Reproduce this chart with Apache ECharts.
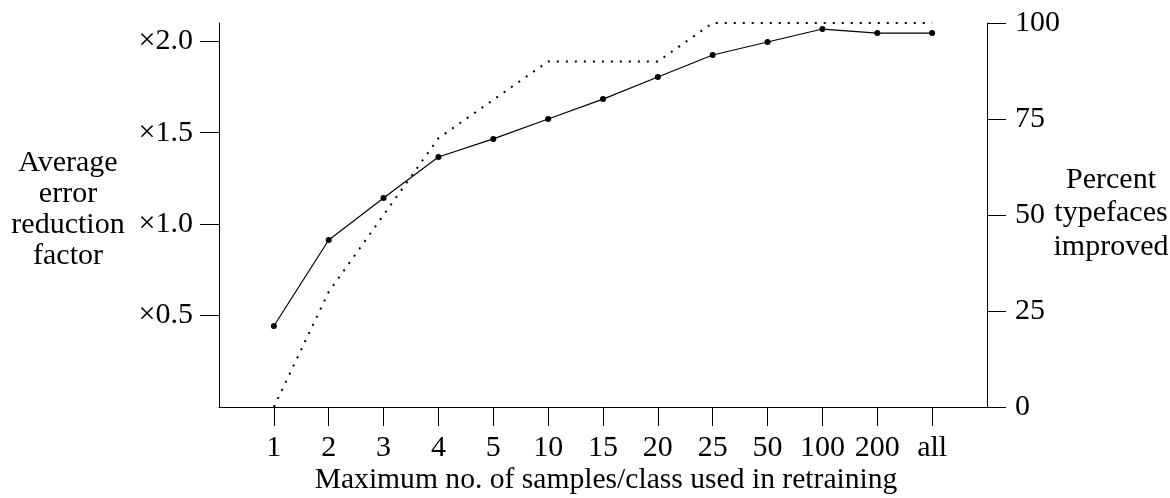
<!DOCTYPE html>
<html>
<head>
<meta charset="utf-8">
<script src="https://cdn.jsdelivr.net/npm/echarts@6/dist/echarts.min.js"></script>
<style>
html,body{margin:0;padding:0;background:#fff;}
#wrap{position:relative;width:1170px;height:498px;}
#axes,#marks{position:absolute;left:0;top:0;width:1170px;height:498px;}
</style>
</head>
<body>
<div id="wrap"><div id="axes"></div><div id="marks"></div></div>
<script>
const categories = ['1', '2', '3', '4', '5', '10', '15', '20', '25', '50', '100', '200', 'all'];
const errorReduction = [0.443, 0.913, 1.143, 1.367, 1.466, 1.575, 1.684, 1.805, 1.925, 1.996, 2.067, 2.045, 2.045];
const percentImproved = [0, 30, 50, 70, 80, 90, 90, 90, 100, 100, 100, 100, 100];
const leftTicks = [0.5, 1.0, 1.5, 2.0];
const xTitle = 'Maximum no. of samples/class used in retraining';
const leftTitle = 'Average\nerror\nreduction\nfactor';
const rightTitle = 'Percent\ntypefaces\nimproved';

const FONT = 'Liberation Serif';
const FS = 30;
const positions = categories.map(function (c, i) { return i + 1; });
const xMax = categories.length + 1;
const solidData = errorReduction.map(function (v, i) { return [positions[i], v]; });
const dottedData = percentImproved.map(function (v, i) { return [positions[i], v]; });
const gridBox = { left: 219, right: 183, top: 23, bottom: 91 };

// layer 1: axes, ticks, labels and the solid series
const axesChart = echarts.init(document.getElementById('axes'));
axesChart.setOption({
  animation: false,
  backgroundColor: '#fff',
  grid: gridBox,
  xAxis: {
    type: 'value', min: 0, max: xMax,
    axisLine: { show: true, lineStyle: { color: '#000', width: 1 } },
    axisTick: { show: true, length: 19, lineStyle: { color: '#000', width: 1 }, customValues: positions },
    axisLabel: { margin: 26, fontFamily: FONT, fontSize: FS, color: '#000', customValues: positions,
      formatter: function (v) { return categories[Math.round(v) - 1]; } },
    splitLine: { show: false }
  },
  yAxis: [
    {
      type: 'value', min: 0, max: 2.1, position: 'left',
      axisLine: { show: true, lineStyle: { color: '#000', width: 1 } },
      axisTick: { show: true, length: 19, lineStyle: { color: '#000', width: 1 }, customValues: leftTicks },
      axisLabel: { margin: 26, fontFamily: FONT, fontSize: FS, color: '#000', customValues: leftTicks,
        formatter: function (v) { return '\u00d7' + v.toFixed(1); } },
      splitLine: { show: false }
    },
    {
      type: 'value', min: 0, max: 100, interval: 25, position: 'right',
      axisLine: { show: true, lineStyle: { color: '#000', width: 1 } },
      axisTick: { show: true, length: 19, lineStyle: { color: '#000', width: 1 } },
      axisLabel: { margin: 28, fontFamily: FONT, fontSize: FS, color: '#000' },
      splitLine: { show: false }
    }
  ],
  series: [
    { type: 'line', yAxisIndex: 0, data: solidData, symbol: 'circle', symbolSize: 6,
      itemStyle: { color: '#000' }, lineStyle: { color: '#000', width: 1.2 } }
  ]
});

// layer 2: same scales (hidden), dotted series and titles
const marksChart = echarts.init(document.getElementById('marks'));
marksChart.setOption({
  animation: false,
  backgroundColor: 'rgba(0,0,0,0)',
  grid: Object.assign({ outerBoundsMode: 'none' }, gridBox),
  xAxis: { type: 'value', min: 0, max: xMax, show: false },
  yAxis: [
    { type: 'value', min: 0, max: 2.1, show: false },
    { type: 'value', min: 0, max: 100, show: false }
  ],
  graphic: [
    { type: 'text', x: 68, y: 148, style: { text: leftTitle, textAlign: 'center', textVerticalAlign: 'top', font: FS + 'px "' + FONT + '"', lineHeight: 31, fill: '#000' } },
    { type: 'text', x: 1111, y: 163, style: { text: rightTitle, textAlign: 'center', textVerticalAlign: 'top', font: FS + 'px "' + FONT + '"', lineHeight: 33.5, fill: '#000' } },
    { type: 'text', x: 606, y: 480, style: { text: xTitle, textAlign: 'center', textVerticalAlign: 'middle', font: '29.6px "' + FONT + '"', fill: '#000' } }
  ],
  series: [
    { type: 'line', yAxisIndex: 1, data: dottedData, symbol: 'none',
      lineStyle: { color: '#000', width: 2, type: [2, 7], cap: 'butt' } }
  ]
});
</script>
</body>
</html>
